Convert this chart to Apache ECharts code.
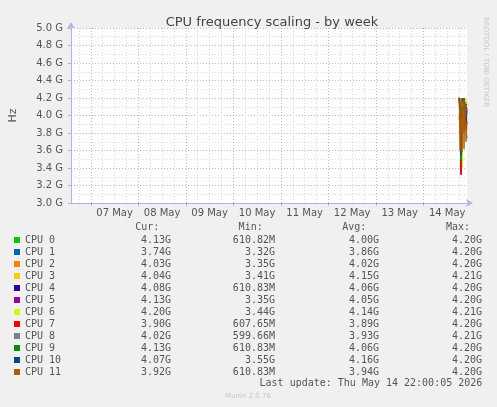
<!DOCTYPE html>
<html>
<head>
<meta charset="utf-8">
<script src="https://cdn.jsdelivr.net/npm/echarts@6/dist/echarts.min.js"></script>
<style>
html,body{margin:0;padding:0;background:#f0f0f0;}
#c{width:497px;height:407px;}
</style>
</head>
<body>
<div id="c"></div>
<script>
// hours since 2026-05-07 00:00
const xMin = -10;
const xMax = 190;
const dayLabels = ['07 May','08 May','09 May','10 May','11 May','12 May','13 May','14 May'];
const dayLabelHours = [12, 36, 60, 84, 108, 132, 156, 180];
const dayStartHours = [0, 24, 48, 72, 96, 120, 144, 168];
const minorHours = [-6, 6, 12, 18, 30, 36, 42, 54, 60, 66, 78, 84, 90, 102, 108, 114, 126, 132, 138, 150, 156, 162, 174, 180, 186];
const yTicks = ['3.0 G','3.2 G','3.4 G','3.6 G','3.8 G','4.0 G','4.2 G','4.4 G','4.6 G','4.8 G','5.0 G'];

const times = [186, 186.5, 187, 187.5, 188, 188.5, 189, 189.5, 190];

const names = ['CPU 0','CPU 1','CPU 2','CPU 3','CPU 4','CPU 5','CPU 6','CPU 7','CPU 8','CPU 9','CPU 10','CPU 11'];
const colors = ['#00cc00','#0066b3','#ff8000','#ffcc00','#330099','#990099','#ccff00','#ff0000','#808080','#008f00','#00487d','#b35a00'];

const cpu0  = [4.20, 4.05, 3.62, 4.10, 3.95, 4.18, 4.02, 4.15, 4.13];
const cpu1  = [3.95, 4.10, 3.32, 4.00, 3.80, 4.20, 3.90, 3.85, 3.74];
const cpu2  = [4.20, 3.98, 3.35, 4.10, 4.00, 4.15, 4.05, 4.12, 4.03];
const cpu3  = [4.21, 4.18, 4.10, 3.41, 4.20, 4.18, 4.15, 4.19, 4.04];
const cpu4  = [4.20, 4.12, 3.90, 4.10, 4.05, 4.15, 4.00, 4.10, 4.08];
const cpu5  = [4.20, 4.08, 3.35, 4.10, 4.05, 4.15, 3.95, 4.12, 4.13];
const cpu6  = [4.21, 4.20, 4.05, 3.44, 4.20, 4.15, 4.20, 4.18, 4.20];
const cpu7  = [4.20, 3.95, 3.32, 3.90, 4.00, 4.10, 3.85, 4.05, 3.90];
const cpu8  = [4.21, 4.00, 3.50, 4.00, 3.90, 4.15, 4.00, 4.05, 4.02];
const cpu9  = [4.20, 4.12, 3.48, 4.10, 4.05, 4.15, 4.10, 4.08, 4.13];
const cpu10 = [4.20, 4.16, 3.55, 4.20, 4.15, 4.20, 4.18, 3.85, 4.07];
const cpu11 = [4.20, 3.60, 4.20, 3.58, 4.18, 3.62, 4.15, 3.70, 3.92];
const seriesValues = [cpu0,cpu1,cpu2,cpu3,cpu4,cpu5,cpu6,cpu7,cpu8,cpu9,cpu10,cpu11];

const curCol = ['4.13G','3.74G','4.03G','4.04G','4.08G','4.13G','4.20G','3.90G','4.02G','4.13G','4.07G','3.92G'];
const minCol = ['610.82M','3.32G','3.35G','3.41G','610.83M','3.35G','3.44G','607.65M','599.66M','610.83M','3.55G','610.83M'];
const avgCol = ['4.00G','3.86G','4.02G','4.15G','4.06G','4.05G','4.14G','3.89G','3.93G','4.06G','4.16G','3.94G'];
const maxCol = ['4.20G','4.20G','4.20G','4.21G','4.20G','4.20G','4.21G','4.20G','4.21G','4.20G','4.20G','4.20G'];
const headers = ['Cur:','Min:','Avg:','Max:'];

const titleText = 'CPU frequency scaling - by week';
const lastUpdate = 'Last update: Thu May 14 22:00:05 2026';
const footer = 'Munin 2.0.76';
const sideText = 'RRDTOOL / TOBI OETIKER';

const mono = 'DejaVu Sans Mono';
const sans = 'DejaVu Sans';
const txtCol = '#555';
const axisCol = '#aab4ee';
const majorGrid = 'rgba(230,90,90,0.55)';
const minorGrid = '#d8d8d8';

const chart = echarts.init(document.getElementById('c'), null, {renderer: 'canvas'});

const series = names.map((n, i) => ({
  name: n,
  type: 'line',
  xAxisIndex: 1,
  yAxisIndex: 0,
  showSymbol: false,
  symbol: 'none',
  animation: false,
  lineStyle: {width: 1, color: colors[i]},
  itemStyle: {color: colors[i]},
  data: times.map((t, k) => [t, seriesValues[i][k]])
}));

const richBase = {fontFamily: mono, fontSize: 10, color: txtCol, lineHeight: 12};
const headerX = [159.3, 262.7, 366.3, 470];

const option = {
  backgroundColor: '#f0f0f0',
  animation: false,
  title: {
    text: titleText,
    left: 267,
    textAlign: 'center',
    top: 11,
    textStyle: {fontFamily: sans, fontSize: 13, fontWeight: 'normal', color: '#444'}
  },
  grid: {left: 67, right: 30, top: 28, bottom: 204, backgroundColor: '#fff', show: true, borderWidth: 0},
  xAxis: [
    {
      type: 'value', min: xMin, max: xMax, gridIndex: 0, position: 'bottom',
      axisLine: {show: false, onZero: false},
      axisLabel: {show: false},
      axisTick: {show: false, customValues: minorHours},
      splitLine: {show: true, lineStyle: {color: minorGrid, type: [1, 2], width: 1}}
    },
    {
      type: 'value', min: xMin, max: xMax, gridIndex: 0, position: 'bottom',
      axisLine: {show: true, onZero: false, lineStyle: {color: axisCol, width: 1}, symbol: ['none', 'arrow'], symbolSize: [6, 7], symbolOffset: [0, 6]},
      axisTick: {show: true, length: 3, lineStyle: {color: majorGrid}, customValues: dayStartHours},
      axisLabel: {
        show: true, margin: 5, color: txtCol, fontFamily: sans, fontSize: 10,
        customValues: dayLabelHours,
        formatter: v => dayLabels[dayLabelHours.indexOf(v)] || ''
      },
      splitLine: {show: true, lineStyle: {color: majorGrid, type: [1, 2], width: 1}}
    }
  ],
  yAxis: [{
    type: 'value', min: 3.0, max: 5.0, interval: 0.2, position: 'left',
    name: 'Hz', nameLocation: 'middle', nameRotate: 90, nameGap: 52,
    nameTextStyle: {fontFamily: sans, fontSize: 11, color: txtCol},
    axisLine: {show: true, onZero: false, lineStyle: {color: axisCol, width: 1}, symbol: ['none', 'arrow'], symbolSize: [6, 7], symbolOffset: [0, 6]},
    axisTick: {show: true, length: 3, lineStyle: {color: majorGrid}},
    minorTick: {show: false, splitNumber: 2},
    axisLabel: {
      margin: 8, color: txtCol, fontFamily: sans, fontSize: 10,
      formatter: v => yTicks[Math.round((v - 3.0) / 0.2)] || ''
    },
    splitLine: {show: true, lineStyle: {color: majorGrid, type: [1, 2], width: 1}},
    minorSplitLine: {show: true, lineStyle: {color: minorGrid, type: [1, 2], width: 1}}
  }],
  legend: {
    orient: 'vertical',
    left: 14, top: 234,
    padding: 0,
    itemGap: 0,
    itemWidth: 6, itemHeight: 6,
    icon: 'rect',
    selectedMode: false,
    data: names,
    textStyle: {
      fontFamily: mono, fontSize: 10, color: txtCol, lineHeight: 12,
      rich: {
        n: Object.assign({width: 85, align: 'left'}, richBase),
        c: Object.assign({width: 61, align: 'right'}, richBase),
        m: Object.assign({width: 104, align: 'right'}, richBase),
        a: Object.assign({width: 104, align: 'right'}, richBase),
        x: Object.assign({width: 103, align: 'right'}, richBase)
      }
    },
    formatter: name => {
      const i = names.indexOf(name);
      return '{n|' + name + '}{c|' + curCol[i] + '}{m|' + minCol[i] + '}{a|' + avgCol[i] + '}{x|' + maxCol[i] + '}';
    }
  },
  graphic: [
    ...headers.map((h, i) => ({
      type: 'text', x: headerX[i], y: 227.3,
      style: {text: h, fontFamily: mono, fontSize: 10, fill: txtCol, align: 'right', verticalAlign: 'middle'}
    })),
    {
      type: 'text', x: 482.3, y: 383.5,
      style: {text: lastUpdate, fontFamily: mono, fontSize: 10, fill: txtCol, align: 'right', verticalAlign: 'middle'}
    },
    {
      type: 'text', x: 248, y: 395.7,
      style: {text: footer, fontFamily: sans, fontSize: 7, fill: '#c8c8c8', align: 'center', verticalAlign: 'middle'}
    },
    {
      type: 'text', x: 486, y: 62, rotation: -Math.PI / 2,
      style: {text: sideText, fontFamily: sans, fontSize: 7, fill: '#c8c8c8', align: 'center', verticalAlign: 'middle'}
    }
  ],
  series: series
};
chart.setOption(option);
</script>
</body>
</html>
